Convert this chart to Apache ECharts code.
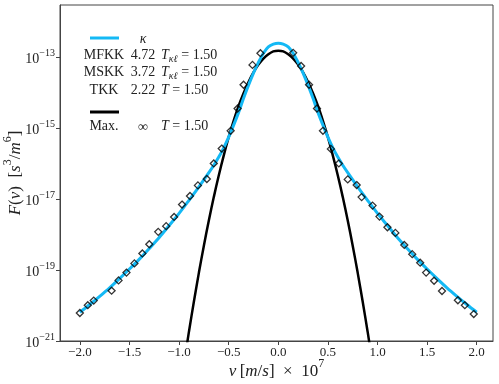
<!DOCTYPE html>
<html>
<head>
<meta charset="utf-8">
<script src="https://cdn.jsdelivr.net/npm/echarts@6/dist/echarts.min.js"></script>
<style>
  html, body { margin: 0; padding: 0; background: #fff; }
  #chart { width: 499px; height: 384px; }
</style>
</head>
<body>
<div id="chart"></div>
<script>
// tick positions
const xTicks = [-2.0, -1.5, -1.0, -0.5, 0.0, 0.5, 1.0, 1.5, 2.0];
const yTickExps = [-21, -19, -17, -15, -13];

// kappa fit (blue), log10 F
const kappaV = [-2.0, -1.9, -1.8, -1.7, -1.6, -1.5, -1.4, -1.3, -1.2, -1.1, -1.0, -0.9, -0.8, -0.7, -0.65, -0.6, -0.55, -0.5, -0.45, -0.4, -0.35, -0.3, -0.25, -0.2, -0.15, -0.1, -0.05,
  0.0, 0.05, 0.1, 0.15, 0.2, 0.25, 0.3, 0.35, 0.4, 0.45, 0.5, 0.55, 0.6, 0.65, 0.7, 0.8, 0.9, 1.0, 1.1, 1.2, 1.3, 1.4, 1.5, 1.6, 1.7, 1.8, 1.9, 2.0];
const kappaLogF = [-20.19, -19.97, -19.74, -19.50, -19.24, -18.97, -18.69, -18.39, -18.08, -17.74, -17.40, -17.03, -16.65, -16.25, -16.04, -15.81, -15.55, -15.25, -14.91, -14.55, -14.15, -13.78, -13.44, -13.14, -12.88, -12.70, -12.625,
  -12.60, -12.625, -12.70, -12.88, -13.14, -13.44, -13.78, -14.15, -14.55, -14.91, -15.25, -15.55, -15.81, -16.04, -16.25, -16.65, -17.03, -17.40, -17.74, -18.08, -18.39, -18.69, -18.97, -19.24, -19.50, -19.74, -19.97, -20.19];

// Maxwellian (black), log10 F
const maxwellV = [-1.0, -0.95, -0.9, -0.85, -0.8, -0.75, -0.7, -0.65, -0.6, -0.55, -0.5, -0.45, -0.4, -0.35, -0.3, -0.25, -0.2, -0.15, -0.1, -0.05,
  0.0, 0.05, 0.1, 0.15, 0.2, 0.25, 0.3, 0.35, 0.4, 0.45, 0.5, 0.55, 0.6, 0.65, 0.7, 0.75, 0.8, 0.85, 0.9, 0.95, 1.0];
const maxwellLogF = [-22.59, -21.64, -20.73, -19.88, -19.07, -18.31, -17.60, -16.94, -16.33, -15.77, -15.25, -14.79, -14.37, -14.01, -13.69, -13.42, -13.20, -13.03, -12.91, -12.83,
  -12.81, -12.83, -12.91, -13.03, -13.20, -13.42, -13.69, -14.01, -14.37, -14.79, -15.25, -15.77, -16.33, -16.94, -17.60, -18.31, -19.07, -19.88, -20.73, -21.64, -22.59];

// simulation samples (diamonds), log10 F
const sampleV = [-2.00, -1.92, -1.86, -1.68, -1.61, -1.53, -1.45, -1.37, -1.30, -1.21, -1.13, -1.05, -0.97, -0.89, -0.81, -0.72, -0.65, -0.57, -0.48, -0.41, -0.35, -0.26, -0.18,
  0.15, 0.23, 0.31, 0.39, 0.45, 0.53, 0.61, 0.70, 0.79, 0.84, 0.95, 1.02, 1.10, 1.18, 1.27, 1.35, 1.43, 1.49, 1.57, 1.65, 1.81, 1.88, 1.97];
const sampleLogF = [-20.21, -19.99, -19.86, -19.58, -19.29, -19.07, -18.81, -18.53, -18.27, -17.92, -17.76, -17.50, -17.15, -16.91, -16.61, -16.43, -15.99, -15.57, -15.07, -14.44, -13.77, -13.21, -12.88,
  -12.87, -13.24, -13.77, -14.44, -15.07, -15.58, -15.99, -16.44, -16.60, -16.94, -17.18, -17.49, -17.79, -17.95, -18.29, -18.55, -18.79, -19.07, -19.30, -19.59, -19.85, -19.99, -20.24];

// legend rows
const legendNames = ['MFKK', 'MSKK', 'TKK'];
const legendKappas = ['4.72', '3.72', '2.22'];

const SERIF = "'Liberation Serif', 'DejaVu Serif', serif";
const BLUE = '#14b9f5';
const minus = (s) => String(s).replace('-', '\u2212');
const pairs = (xs, ys) => xs.map((x, i) => [x, ys[i]]);

const mathRich = {
  r: { fontFamily: SERIF, fontSize: 17, color: '#222', lineHeight: 22, verticalAlign: 'bottom' },
  i: { fontFamily: SERIF, fontSize: 17, fontStyle: 'italic', color: '#222', lineHeight: 22, verticalAlign: 'bottom' },
  sup: { fontFamily: SERIF, fontSize: 12, color: '#222', lineHeight: 12, verticalAlign: 'top' }
};

const legendRich = {
  r: { fontFamily: SERIF, fontSize: 14, color: '#222', lineHeight: 18, verticalAlign: 'middle' },
  i: { fontFamily: SERIF, fontSize: 14, fontStyle: 'italic', color: '#222', lineHeight: 18, verticalAlign: 'middle' },
  sub: { fontFamily: SERIF, fontSize: 10, fontStyle: 'italic', color: '#222', lineHeight: 8, verticalAlign: 'bottom' }
};

const legendText = (x, y, text, align) => ({
  type: 'text', x: x, y: y,
  style: { text: text, rich: legendRich, align: align, verticalAlign: 'middle', fontFamily: SERIF, fontSize: 14, fill: '#222' }
});

const graphics = [
  { type: 'line', shape: { x1: 90, y1: 38, x2: 119, y2: 38 }, style: { stroke: BLUE, lineWidth: 3 } },
  legendText(143, 39, '{i|κ}', 'center'),
  { type: 'line', shape: { x1: 90, y1: 112, x2: 119, y2: 112 }, style: { stroke: '#000', lineWidth: 3 } },
  legendText(104, 126, '{r|Max.}', 'center'),
  legendText(143, 127, '{r|∞}', 'center'),
  legendText(161, 126, '{i|T}{r| = 1.50}', 'left')
];
const rowY = [55, 72, 90];
legendNames.forEach((name, k) => {
  graphics.push(legendText(104, rowY[k], `{r|${name}}`, 'center'));
  graphics.push(legendText(143, rowY[k], `{r|${legendKappas[k]}}`, 'center'));
  const tLabel = k < 2 ? '{i|T}{sub|κℓ}{r| = 1.50}' : '{i|T}{r| = 1.50}';
  graphics.push(legendText(161, rowY[k], tLabel, 'left'));
});

const chart = echarts.init(document.getElementById('chart'), null, { renderer: 'canvas' });

chart.setOption({
  animation: false,
  backgroundColor: '#fff',
  grid: {
    left: 60, right: 6, top: 5, bottom: 43,
    containLabel: false, outerBoundsMode: 'none',
    show: true, borderColor: '#444', borderWidth: 1
  },
  xAxis: {
    type: 'value',
    min: -2.2, max: 2.164,
    axisLine: { show: true, onZero: false, lineStyle: { color: '#444', width: 1 } },
    axisTick: { show: true, length: 4, customValues: xTicks, lineStyle: { color: '#444' } },
    axisLabel: {
      customValues: xTicks, margin: 5,
      fontFamily: SERIF, fontSize: 13, color: '#222',
      formatter: (v) => minus(v.toFixed(1))
    },
    splitLine: { show: false },
    name: '{i|v} {r|[}{i|m}{r|/}{i|s}{r|]  ×  10}{sup|7}',
    nameLocation: 'middle', nameGap: 17, nameMoveOverlap: false,
    nameTextStyle: { rich: mathRich }
  },
  yAxis: {
    type: 'value',
    min: -21, max: -11.52,
    axisLine: { show: true, onZero: false, lineStyle: { color: '#444', width: 1 } },
    axisTick: { show: true, length: 4, customValues: yTickExps, lineStyle: { color: '#444' } },
    axisLabel: {
      customValues: yTickExps, margin: 5,
      formatter: (v) => `{b|10}{s|${minus(v)}}`,
      rich: {
        b: { fontFamily: SERIF, fontSize: 14, color: '#222', lineHeight: 18, verticalAlign: 'bottom' },
        s: { fontFamily: SERIF, fontSize: 10, color: '#222', lineHeight: 10, verticalAlign: 'top' }
      }
    },
    splitLine: { show: false },
    name: '{i|F}{r|(}{i|v}{r|)  [}{i|s}{sup|3}{r|/}{i|m}{sup|6}{r|]}',
    nameLocation: 'middle', nameRotate: 90, nameGap: 36, nameMoveOverlap: false,
    nameTextStyle: { rich: mathRich }
  },
  graphic: graphics,
  series: [
    {
      type: 'line', name: 'Maxwellian',
      data: pairs(maxwellV, maxwellLogF),
      smooth: 0.3, showSymbol: false, clip: true,
      lineStyle: { color: '#000', width: 2.5 }, z: 2
    },
    {
      type: 'line', name: 'kappa',
      data: pairs(kappaV, kappaLogF),
      smooth: 0.3, showSymbol: false, clip: true,
      lineStyle: { color: BLUE, width: 3 }, z: 3
    },
    {
      type: 'scatter', name: 'samples',
      data: pairs(sampleV, sampleLogF),
      symbol: 'diamond', symbolSize: [7, 7],
      itemStyle: { color: 'rgba(0,0,0,0)', borderColor: '#000', borderWidth: 1.3 },
      z: 4
    }
  ]
});
</script>
</body>
</html>
